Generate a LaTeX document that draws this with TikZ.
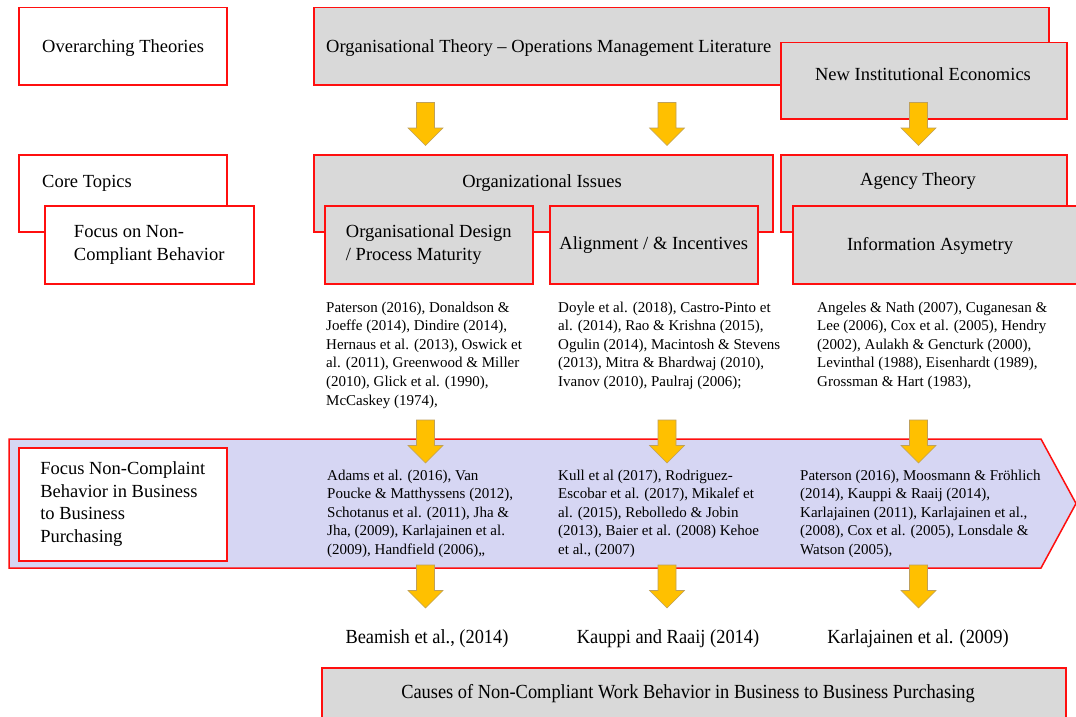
\documentclass[tikz,border=0pt]{standalone}
\usepackage{fontspec}
\setmainfont{Liberation Serif}
\newfontfamily\tallserif[FakeStretch=0.92]{Liberation Serif}
\definecolor{boxred}{RGB}{255,15,15}
\definecolor{boxgray}{RGB}{217,217,217}
\definecolor{bandblue}{RGB}{214,214,243}
\definecolor{arrowgold}{RGB}{255,192,0}
\definecolor{arrowedge}{RGB}{190,160,90}

\begin{document}
\begin{tikzpicture}[x=1pt,y=-1pt,
  frame/.style={draw=boxred, line width=1.5pt, inner sep=0pt, anchor=north west},
  whitebox/.style={frame, fill=white},
  graybox/.style={frame, fill=boxgray},
  title/.style={font=\fontsize{18.5}{22.5}\selectfont, inner sep=0pt},
  boxtext/.style={title, align=left},
  cite/.style={font=\fontsize{15}{18.6}\selectfont, align=left, inner sep=0pt, anchor=north west},
  bottomlabel/.style={font=\tallserif\fontsize{20}{24}\selectfont, inner sep=0pt, anchor=base},
  blockarrow/.pic={\path[fill=arrowgold, draw=arrowedge, line width=0.6pt, line join=miter]
     (-9,0) -- (9,0) -- (9,25.5) -- (17.5,25.5) -- (0,43) -- (-17.5,25.5) -- (-9,25.5) -- cycle;}
]
\useasboundingbox (0,0) rectangle (1076,717);
\clip (0,0) rectangle (1076,717);

% ---- overarching theories row ----
\node[whitebox, minimum width=208pt, minimum height=77pt] (ovr) at (18,7) {};
\node[title, anchor=base west] (ovrtext) at (42,52.5) {Overarching Theories};
\node[graybox, minimum width=735pt, minimum height=77pt] (orgth) at (313,7) {};
\node[title, anchor=base west] (orgthtext) at (326,52.5) {Organisational Theory -- Operations Management Literature};
\node[graybox, minimum width=286pt, minimum height=76pt] (nie) at (780,42) {};
\node[title, anchor=base] (nietext) at (923,80.5) {New Institutional Economics};

% ---- arrows into the core topics ----
\pic at (425.5,102.5) {blockarrow};
\pic at (667,102.5) {blockarrow};
\pic at (918.5,102.5) {blockarrow};

% ---- core topics row ----
\node[whitebox, minimum width=208pt, minimum height=77pt] (core) at (18,154) {};
\node[title, anchor=base west] (coretext) at (42,187.5) {Core Topics};
\node[whitebox, minimum width=209pt, minimum height=78pt, boxtext] (focus) at (44,205) {Focus on Non-\\Compliant Behavior};

\node[graybox, minimum width=459pt, minimum height=77pt] (orgiss) at (313,154) {};
\node[title, anchor=base] (orgisstext) at (542,187.5) {Organizational Issues};
\node[graybox, minimum width=208pt, minimum height=78pt, boxtext] (orgdes) at (324,205) {Organisational Design\\/ Process Maturity};
\node[graybox, minimum width=208pt, minimum height=78pt, boxtext] (align) at (549,205) {Alignment / \& Incentives};

\node[graybox, minimum width=286pt, minimum height=77pt] (agency) at (780,154) {};
\node[title, anchor=base] (agencytext) at (918,185.5) {Agency Theory};
\node[graybox, minimum width=286pt, minimum height=78pt] (info) at (792,205) {};
\node[title, anchor=base] (infotext) at (930,250.5) {Information Asymetry};

% ---- literature per topic ----
\node[cite] (lit1) at (326,301.5) {Paterson (2016), Donaldson \&\\Joeffe (2014), Dindire (2014),\\Hernaus et al. (2013), Oswick et\\al. (2011), Greenwood \& Miller\\(2010), Glick et al. (1990),\\McCaskey (1974),};
\node[cite] (lit2) at (558,301.5) {Doyle et al. (2018), Castro-Pinto et\\al. (2014), Rao \& Krishna (2015),\\Ogulin (2014), Macintosh \& Stevens\\(2013), Mitra \& Bhardwaj (2010),\\Ivanov (2010), Paulraj (2006);};
\node[cite] (lit3) at (817,301.5) {Angeles \& Nath (2007), Cuganesan \&\\Lee (2006), Cox et al. (2005), Hendry\\(2002), Aulakh \& Gencturk (2000),\\Levinthal (1988), Eisenhardt (1989),\\Grossman \& Hart (1983),};

% ---- purchasing band ----
\draw[draw=boxred, line width=1.5pt, fill=bandblue]
  (9,439) -- (1041,439) -- (1076,503.5) -- (1041,568) -- (9,568) -- cycle;
\node[whitebox, minimum width=208pt, minimum height=113pt, boxtext] (focusnc) at (18,447)
  {Focus Non-Complaint\\Behavior in Business\\to Business\\Purchasing};

\pic at (425.5,420) {blockarrow};
\pic at (667,420) {blockarrow};
\pic at (918.5,420) {blockarrow};

\node[cite] (pur1) at (327,469.5) {Adams et al. (2016), Van\\Poucke \& Matthyssens (2012),\\Schotanus et al. (2011), Jha \&\\Jha, (2009), Karlajainen et al.\\(2009), Handfield (2006),,};
\node[cite] (pur2) at (558,469.5) {Kull et al (2017), Rodriguez-\\Escobar et al. (2017), Mikalef et\\al. (2015), Rebolledo \& Jobin\\(2013), Baier et al. (2008) Kehoe\\et al., (2007)};
\node[cite] (pur3) at (800,469.5) {Paterson (2016), Moosmann \& Fröhlich\\(2014), Kauppi \& Raaij (2014),\\Karlajainen (2011), Karlajainen et al.,\\(2008), Cox et al. (2005), Lonsdale \&\\Watson (2005),};

% ---- key studies and outcome ----
\pic at (425.5,565) {blockarrow};
\pic at (667,565) {blockarrow};
\pic at (918.5,565) {blockarrow};

\node[bottomlabel] (key1) at (427,643) {Beamish et al., (2014)};
\node[bottomlabel] (key2) at (668,643) {Kauppi and Raaij (2014)};
\node[bottomlabel] (key3) at (918,643) {Karlajainen et al. (2009)};

\node[graybox, minimum width=744pt, minimum height=60pt] (causes) at (321,667) {};
\node[bottomlabel] (causestext) at (688,698) {Causes of Non-Compliant Work Behavior in Business to Business Purchasing};
\end{tikzpicture}
\end{document}
